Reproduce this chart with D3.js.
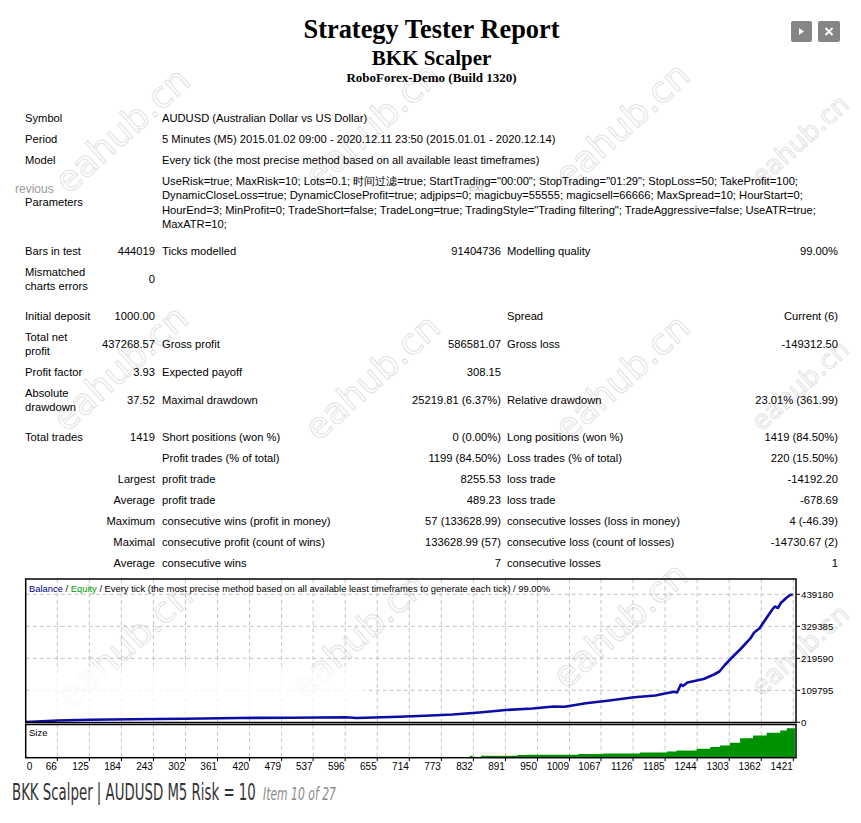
<!DOCTYPE html>
<html>
<head>
<meta charset="utf-8">
<script src="https://cdn.jsdelivr.net/npm/d3@7"></script>
<style>
  body { margin: 0; background: #fff; }
  svg { display: block; font-family: "Liberation Sans", Arial, sans-serif; }
</style>
</head>
<body>
<svg id="report" width="861" height="823"></svg>
<script>
// ---- chart data ----
const balanceTrade = [8, 67, 126, 204, 303, 400, 499, 597, 617, 695, 754, 794, 843, 892, 941, 980, 1000, 1039, 1079, 1128,
  1167, 1187, 1202, 1207, 1214, 1218, 1226, 1256, 1275, 1285, 1295, 1309, 1324, 1342, 1349, 1359, 1371, 1383, 1387, 1393,
  1398, 1408, 1415, 1420];
const balanceValue = [1000, 6200, 8600, 10300, 12400, 14800, 15800, 17200, 14800, 18900, 23300, 26800, 33600, 42200, 47400, 54200, 53200, 65200, 74100, 85800,
  92000, 99500, 105000, 102300, 129700, 124600, 136600, 148600, 164000, 174300, 196600, 224000, 251500, 287600, 308200, 322600, 356200, 388800, 397400, 392300,
  409400, 426600, 436900, 438268];
const sizeTrade = [826, 831, 846, 913, 930, 1025, 1071, 1139, 1188, 1206, 1243, 1268, 1286, 1304, 1323, 1347, 1372, 1397, 1409, 1424];
const sizeLots = [3, 0, 3, 4.1, 4.5, 5.6, 6.5, 8, 9.5, 11, 13.6, 16.2, 18.2, 22.7, 29.4, 33.3, 37.4, 40.9, 44.5, 44.5];
const xTickLabels = [0, 66, 125, 184, 243, 302, 361, 420, 479, 537, 596, 655, 714, 773, 832, 891, 950, 1009, 1067, 1126, 1185, 1244, 1303, 1362, 1421];
const yTickLabels = [0, 109795, 219590, 329385, 439180];

// ---- report text ----
const infoLabels = ["Symbol", "Period", "Model"];
const infoValues = [
  "AUDUSD (Australian Dollar vs US Dollar)",
  "5 Minutes (M5) 2015.01.02 09:00 - 2020.12.11 23:50 (2015.01.01 - 2020.12.14)",
  "Every tick (the most precise method based on all available least timeframes)"
];
const paramLines = [
  'UseRisk=true; MaxRisk=10; Lots=0.1; 时间过滤=true; StartTrading="00:00"; StopTrading="01:29"; StopLoss=50; TakeProfit=100;',
  "DynamicCloseLoss=true; DynamicCloseProfit=true; adjpips=0; magicbuy=55555; magicsell=66666; MaxSpread=10; HourStart=0;",
  'HourEnd=3; MinProfit=0; TradeShort=false; TradeLong=true; TradingStyle="Trading filtering"; TradeAggressive=false; UseATR=true;',
  "MaxATR=10;"
];
const statLabelA = ["Bars in test", "Mismatched\ncharts errors", "Initial deposit", "Total net\nprofit", "Profit factor", "Absolute\ndrawdown", "Total trades", "", "", "", "", "", ""];
const statValueA = ["444019", "0", "1000.00", "437268.57", "3.93", "37.52", "1419", "", "Largest", "Average", "Maximum", "Maximal", "Average"];
const statLabelB = ["Ticks modelled", "", "", "Gross profit", "Expected payoff", "Maximal drawdown", "Short positions (won %)", "Profit trades (% of total)",
  "profit trade", "profit trade", "consecutive wins (profit in money)", "consecutive profit (count of wins)", "consecutive wins"];
const statValueB = ["91404736", "", "", "586581.07", "308.15", "25219.81 (6.37%)", "0 (0.00%)", "1199 (84.50%)", "8255.53", "489.23", "57 (133628.99)", "133628.99 (57)", "7"];
const statLabelC = ["Modelling quality", "", "Spread", "Gross loss", "", "Relative drawdown", "Long positions (won %)", "Loss trades (% of total)",
  "loss trade", "loss trade", "consecutive losses (loss in money)", "consecutive loss (count of losses)", "consecutive losses"];
const statValueC = ["99.00%", "", "Current (6)", "-149312.50", "", "23.01% (361.99)", "1419 (84.50%)", "220 (15.50%)", "-14192.20", "-678.69", "4 (-46.39)", "-14730.67 (2)", "1"];

const svg = d3.select("#report");

// watermarks go under everything else
const marks = [[122, 130, 36], [372, 125, 36], [622, 125, 36], [800, 140, 26], [120, 368, 36], [372, 377, 36],
  [622, 377, 36], [800, 385, 26], [125, 645, 36], [358, 635, 36], [620, 625, 36], [800, 650, 26]];
svg.append("g").selectAll("text").data(marks).join("text")
  .attr("transform", d => `translate(${d[0]},${d[1]}) rotate(-42)`)
  .attr("text-anchor", "middle").attr("dy", "0.35em")
  .style("font-family", "'DejaVu Sans', sans-serif").style("font-size", d => d[2] + "px")
  .attr("fill", "none").attr("stroke", "#e3e3e3").attr("stroke-width", 1)
  .text("eahub.cn");

// header
const serif = "'Liberation Serif', 'Times New Roman', serif";
svg.append("text").attr("x", 431.5).attr("y", 38).attr("text-anchor", "middle")
  .style("font-family", serif).style("font-weight", "bold").style("font-size", "26.4px")
  .text("Strategy Tester Report");
svg.append("text").attr("x", 431.5).attr("y", 65).attr("text-anchor", "middle")
  .style("font-family", serif).style("font-weight", "bold").style("font-size", "21px")
  .text("BKK Scalper");
svg.append("text").attr("x", 431.5).attr("y", 82).attr("text-anchor", "middle")
  .style("font-family", serif).style("font-weight", "bold").style("font-size", "13px")
  .text("RoboForex-Demo (Build 1320)");

// buttons top right
const btn = svg.append("g");
btn.append("rect").attr("x", 791).attr("y", 21).attr("width", 21).attr("height", 21).attr("rx", 2).attr("fill", "#858585");
btn.append("rect").attr("x", 818).attr("y", 21).attr("width", 22).attr("height", 21).attr("rx", 2).attr("fill", "#858585");
btn.append("path").attr("d", "M799,28 L804,31.5 L799,35 Z").attr("fill", "#fff");
btn.append("path").attr("d", "M825.5,28 L832.5,35 M832.5,28 L825.5,35").attr("stroke", "#fff").attr("stroke-width", 1.8);

// report table
const t = svg.append("g").style("font-size", "11.2px").attr("fill", "#000");
const col = { l1: 25, v1: 155, l2: 162, v2: 501, l3: 507, v3: 838 };
const infoY = [118, 139, 160];
infoLabels.forEach((d, i) => {
  t.append("text").attr("x", col.l1).attr("y", infoY[i] + 4).text(d);
  t.append("text").attr("x", col.l2).attr("y", infoY[i] + 4).text(infoValues[i]);
});
t.append("text").attr("x", 15).attr("y", 193).attr("fill", "#9a9a9a").style("font-size", "12px").text("revious");
t.append("text").attr("x", 469).attr("y", 191).attr("fill", "#b8b8b8").style("font-size", "11px").text("ext");
t.append("text").attr("x", col.l1).attr("y", 206).text("Parameters");
paramLines.forEach((d, i) => {
  t.append("text").attr("x", col.l2).attr("y", 185 + i * 14.3).text(d);
});

const rowY = [251, 279, 316, 344, 372, 400, 437, 458, 479, 500, 521, 542, 563];
function cell(txt, x, y, anchor) {
  if (!txt) return;
  const lines = txt.split("\n");
  const el = t.append("text").attr("text-anchor", anchor);
  lines.forEach((ln, k) => {
    el.append("tspan").attr("x", x).attr("y", y + 4 + (k - (lines.length - 1) / 2) * 14).text(ln);
  });
}
rowY.forEach((y, i) => {
  cell(statLabelA[i], col.l1, y, "start");
  cell(statValueA[i], col.v1, y, "end");
  cell(statLabelB[i], col.l2, y, "start");
  cell(statValueB[i], col.v2, y, "end");
  cell(statLabelC[i], col.l3, y, "start");
  cell(statValueC[i], col.v3, y, "end");
});

// ---- chart ----
const left = 25.7, right = 796, mainTop = 579, mainBottom = 722.5, sizeTop = 724.5, sizeBottom = 757.7;
const x = d3.scaleLinear().domain([66, 1421]).range([57.3, 793.3]);
const y = d3.scaleLinear().domain([0, 439180]).range([722.3, 594.3]);
const ys = d3.scaleLinear().domain([0, 50]).range([sizeBottom, sizeTop]);

const defs = svg.append("defs");
defs.append("clipPath").attr("id", "mainClip").append("rect")
  .attr("x", left).attr("y", mainTop).attr("width", right - left).attr("height", mainBottom - mainTop);
defs.append("filter").attr("id", "soft").attr("x", "-10%").attr("y", "-30%").attr("width", "120%").attr("height", "160%")
  .append("feGaussianBlur").attr("stdDeviation", 3);

const chart = svg.append("g");
const gridColor = "#c4c4c4";
const gridTicks = xTickLabels.slice(1);

// grid
chart.append("g").selectAll("line").data(gridTicks).join("line")
  .attr("x1", d => x(d)).attr("x2", d => x(d)).attr("y1", mainTop).attr("y2", mainBottom)
  .attr("stroke", gridColor).attr("stroke-dasharray", "4,3");
chart.append("g").selectAll("line").data(gridTicks).join("line")
  .attr("x1", d => x(d)).attr("x2", d => x(d)).attr("y1", sizeTop).attr("y2", sizeBottom)
  .attr("stroke", gridColor).attr("stroke-dasharray", "4,3");
chart.append("g").selectAll("line").data(yTickLabels.slice(1)).join("line")
  .attr("x1", left).attr("x2", right).attr("y1", d => y(d)).attr("y2", d => y(d))
  .attr("stroke", gridColor).attr("stroke-dasharray", "4,3");

// faint overlay left over from a tooltip in the screenshot
chart.append("rect").attr("x", 30).attr("y", 668).attr("width", 336).attr("height", 50)
  .attr("fill", "#fff").attr("opacity", 0.8).attr("filter", "url(#soft)");

// size area
const sizeData = sizeTrade.map((d, i) => [d, sizeLots[i]]);
chart.append("path").datum(sizeData)
  .attr("d", d3.area().curve(d3.curveStepAfter).x(d => x(d[0])).y0(ys(0)).y1(d => ys(d[1])))
  .attr("fill", "#009100");

// balance line
const balData = balanceTrade.map((d, i) => [d, balanceValue[i]]);
chart.append("path").datum(balData).attr("clip-path", "url(#mainClip)")
  .attr("d", d3.line().x(d => x(d[0])).y(d => y(d[1])))
  .attr("fill", "none").attr("stroke", "#0c0ca6").attr("stroke-width", 2.6).attr("stroke-linejoin", "round");

// panel borders
chart.append("rect").attr("x", left).attr("y", mainTop).attr("width", right - left).attr("height", mainBottom - mainTop)
  .attr("fill", "none").attr("stroke", "#000").attr("stroke-width", 1.5);
chart.append("rect").attr("x", left).attr("y", sizeTop).attr("width", right - left).attr("height", sizeBottom - sizeTop)
  .attr("fill", "none").attr("stroke", "#000").attr("stroke-width", 1.5);

// y axis (right)
const yAxis = chart.append("g").style("font-size", "9.7px");
yAxis.selectAll("line").data(yTickLabels).join("line")
  .attr("x1", right).attr("x2", right + 4).attr("y1", d => y(d)).attr("y2", d => y(d)).attr("stroke", "#000");
yAxis.selectAll("text").data(yTickLabels).join("text")
  .attr("x", right + 5).attr("y", d => y(d) + 3.5).text(d => d);

// x axis (bottom)
const xAxis = chart.append("g").style("font-size", "10px");
xAxis.selectAll("line").data(gridTicks).join("line")
  .attr("x1", d => x(d)).attr("x2", d => x(d)).attr("y1", sizeBottom).attr("y2", sizeBottom + 3.5).attr("stroke", "#000");
xAxis.selectAll("text").data(xTickLabels).join("text")
  .attr("x", d => (d === 0 ? left + 1 : x(d) - 0.5))
  .attr("text-anchor", d => (d === 0 ? "start" : "end"))
  .attr("y", 769.5).text(d => d);

// legend
const leg = chart.append("text").attr("x", 29).attr("y", 591.5).style("font-size", "9.4px");
leg.append("tspan").attr("fill", "#00008b").text("Balance");
leg.append("tspan").text(" / ");
leg.append("tspan").attr("fill", "#00a000").text("Equity");
leg.append("tspan").text(" / Every tick (the most precise method based on all available least timeframes to generate each tick) / 99.00%");
chart.append("text").attr("x", 29).attr("y", 736).style("font-size", "9.5px").text("Size");

// caption: squeeze a condensed face to the narrow width seen in the picture
const narrow = "'Liberation Sans Narrow', 'DejaVu Sans Condensed', sans-serif";
function squeezed(txt, x0, width, size, color, italic) {
  const el = svg.append("text").attr("fill", color)
    .style("font-family", narrow).style("font-size", size + "px").style("font-style", italic ? "italic" : "normal")
    .text(txt);
  const w = el.node().getComputedTextLength() || width;
  el.attr("transform", `translate(${x0},800) scale(${width / w},1)`);
}
squeezed("BKK Scalper | AUDUSD M5 Risk = 10", 12, 244, 23, "#333", false);
squeezed("Item 10 of 27", 263, 73, 17, "#8a8a8a", true);
</script>
</body>
</html>
